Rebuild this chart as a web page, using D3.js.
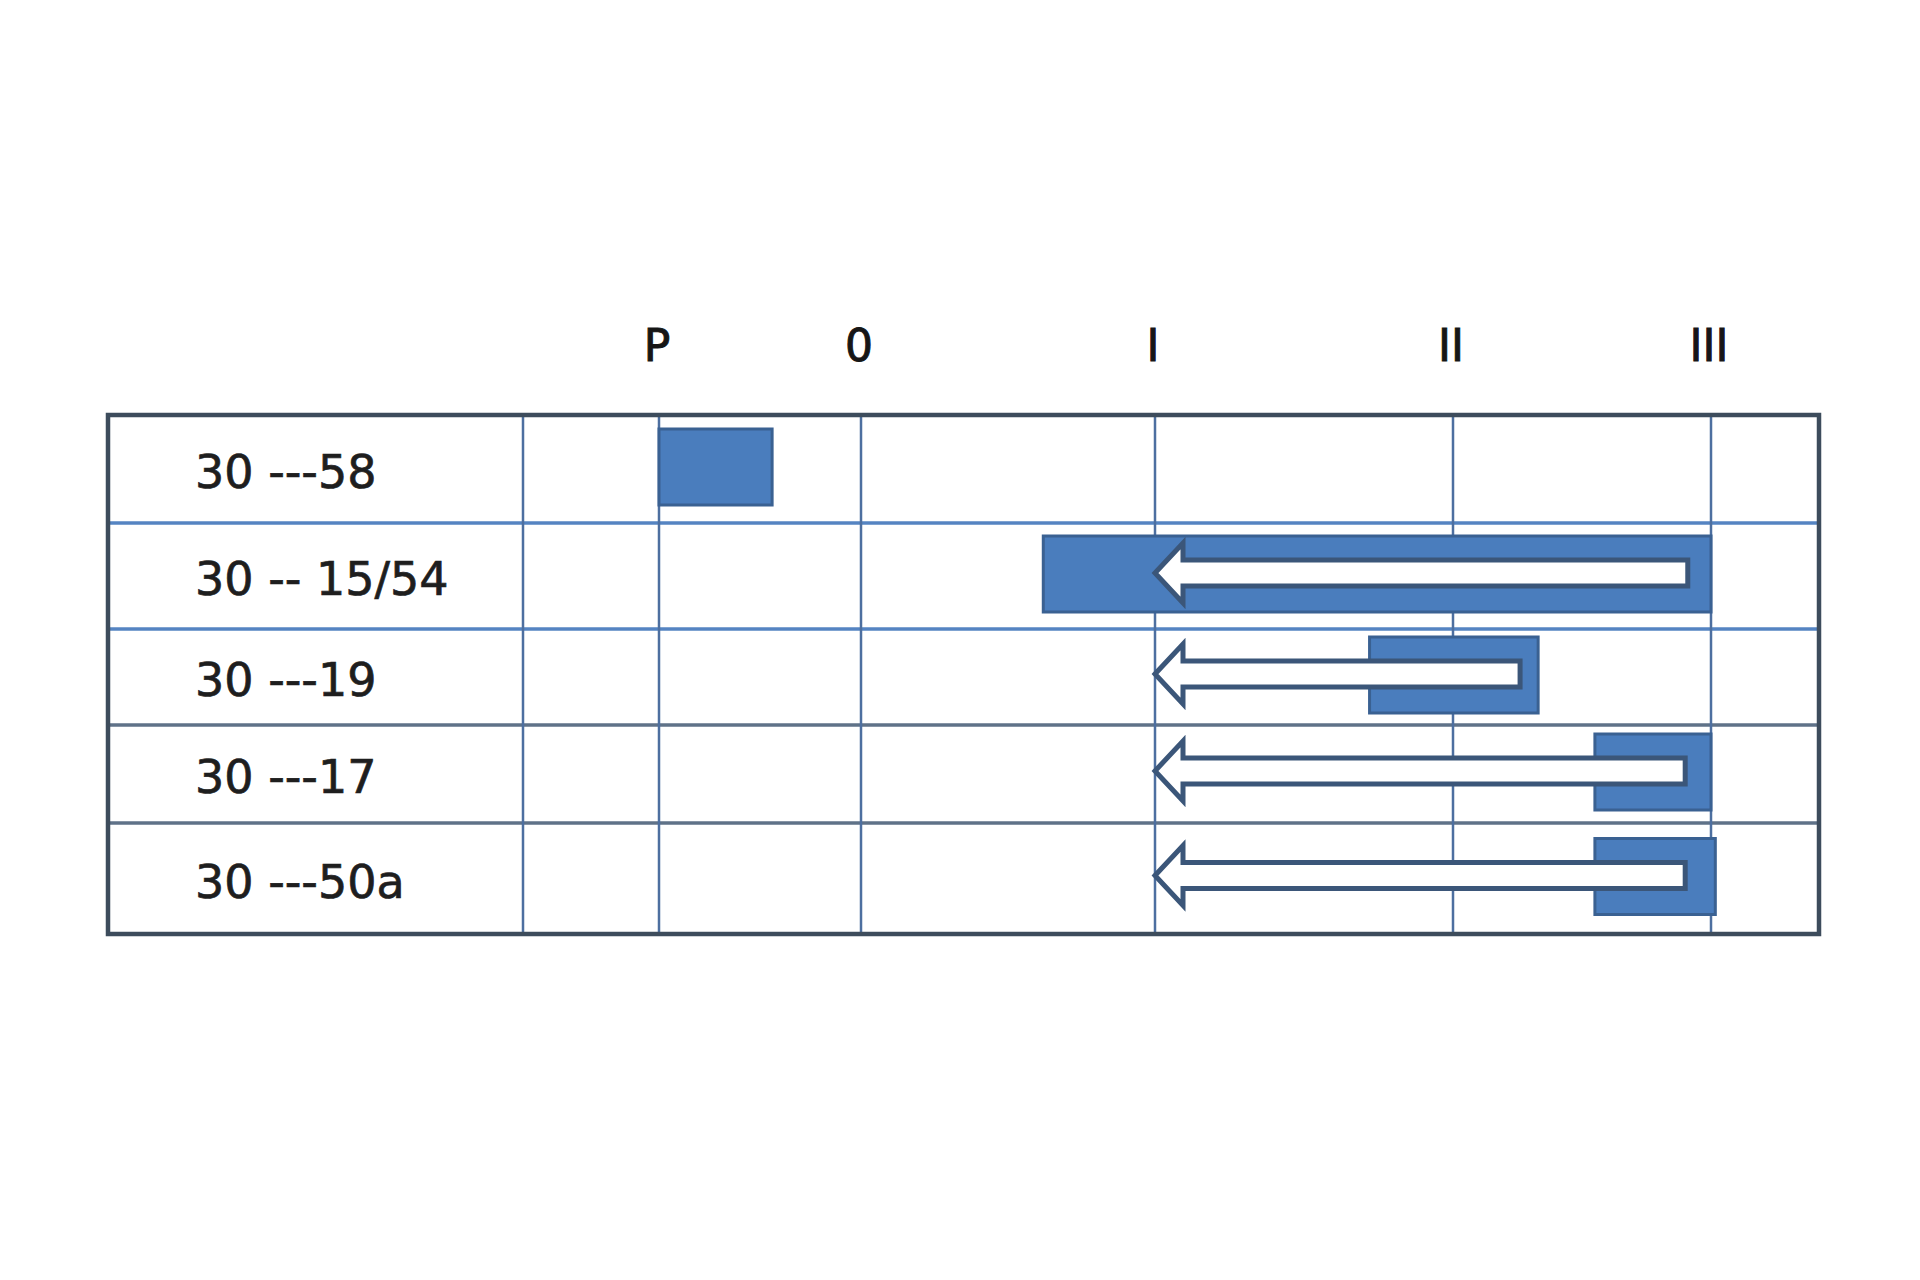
<!DOCTYPE html>
<html>
<head>
<meta charset="utf-8">
<script src="https://cdn.jsdelivr.net/npm/d3@7"></script>
<style>
  html, body { margin: 0; padding: 0; background: #ffffff; }
  svg { display: block; }
</style>
</head>
<body>
<svg id="chart" width="1920" height="1280"></svg>
<script>
// ---- data ----
const rowLabels = ["30 ---58", "30 -- 15/54", "30 ---19", "30 ---17", "30 ---50a"];
const stageLabels = ["P", "0", "I", "II", "III"];
const stageValues = [0, 1, 2, 3, 4];
// bar extent in stage units (P = 0, 0 = 1, I = 2, II = 3, III = 4)
const barStart = [0.00, 1.62, 2.72, 3.55, 3.55];
const barEnd   = [0.56, 4.00, 3.33, 4.00, 4.04];
// arrows (pointing back to stage I); null = no arrow
const arrowFrom = [null, 3.91, 3.26, 3.90, 3.90];
const arrowTo   = [null, 2.00, 2.00, 2.00, 2.00];

// ---- layout ----
const svg = d3.select("#chart");
const tableLeft = 108, tableRight = 1819, labelColRight = 523;
const rowEdges = [415, 523, 629, 725, 823, 934];
const colEdges = [labelColRight, 659, 861, 1155, 1453, 1711, tableRight];

const x = d3.scaleLinear().domain([-1, 0, 1, 2, 3, 4, 5]).range(colEdges);
const y = d3.scaleLinear().domain(d3.range(rowLabels.length + 1)).range(rowEdges);

const barH = 76;
const shaftHalf = 13, headHalf = 30, headLen = 28;

// horizontal row lines
const hLines = d3.range(1, rowLabels.length);
svg.append("g").selectAll("line").data(hLines).join("line")
  .attr("x1", tableLeft).attr("x2", tableRight)
  .attr("y1", d => y(d)).attr("y2", d => y(d))
  .attr("stroke", d => d <= 2 ? "#5584c2" : "#5f7288")
  .attr("stroke-width", 3.5);

// vertical lines: label column + stage gridlines
const vVals = [-1].concat(stageValues);
svg.append("g").selectAll("line").data(vVals).join("line")
  .attr("x1", d => x(d)).attr("x2", d => x(d))
  .attr("y1", y(0)).attr("y2", y(rowLabels.length))
  .attr("stroke", "#4d6fa0")
  .attr("stroke-width", 2.5);

// bars
svg.append("g").selectAll("rect").data(rowLabels.map((d, i) => i)).join("rect")
  .attr("x", i => x(barStart[i]))
  .attr("width", i => x(barEnd[i]) - x(barStart[i]))
  .attr("y", i => y(i + 0.5) - barH / 2 - 2)
  .attr("height", barH)
  .attr("fill", "#4a7dbd")
  .attr("stroke", "#3a6192")
  .attr("stroke-width", 3);

// arrows
function arrowPath(i) {
  const cy = y(i + 0.5) - 3;
  const x0 = x(arrowTo[i]), x1 = x(arrowFrom[i]);
  const p = d3.path();
  p.moveTo(x0, cy);
  p.lineTo(x0 + headLen, cy - headHalf);
  p.lineTo(x0 + headLen, cy - shaftHalf);
  p.lineTo(x1, cy - shaftHalf);
  p.lineTo(x1, cy + shaftHalf);
  p.lineTo(x0 + headLen, cy + shaftHalf);
  p.lineTo(x0 + headLen, cy + headHalf);
  p.closePath();
  return p.toString();
}
svg.append("g").selectAll("path")
  .data(rowLabels.map((d, i) => i).filter(i => arrowFrom[i] !== null))
  .join("path")
  .attr("d", arrowPath)
  .attr("fill", "#ffffff")
  .attr("stroke", "#3b5679")
  .attr("stroke-width", 5)
  .attr("stroke-linejoin", "miter");

// outer table border
svg.append("rect")
  .attr("x", tableLeft).attr("y", y(0))
  .attr("width", tableRight - tableLeft)
  .attr("height", y(rowLabels.length) - y(0))
  .attr("fill", "none")
  .attr("stroke", "#3d4c5c")
  .attr("stroke-width", 4.5);

// row labels
svg.append("g").selectAll("text").data(rowLabels).join("text")
  .attr("x", 195)
  .attr("y", (d, i) => y(i + 0.5) + 19)
  .attr("font-family", "DejaVu Sans, Verdana, sans-serif")
  .attr("font-size", 46)
  .attr("fill", "#1e1e1e")
  .attr("stroke", "#1e1e1e")
  .attr("stroke-width", 0.7)
  .text(d => d);

// stage header labels
svg.append("g").selectAll("text").data(stageLabels).join("text")
  .attr("x", (d, i) => x(stageValues[i]) - 2)
  .attr("y", 361)
  .attr("text-anchor", "middle")
  .attr("font-family", "DejaVu Sans, Verdana, sans-serif")
  .attr("font-size", 44)
  .attr("fill", "#161616")
  .attr("stroke", "#161616")
  .attr("stroke-width", 1)
  .text(d => d);
</script>
</body>
</html>
